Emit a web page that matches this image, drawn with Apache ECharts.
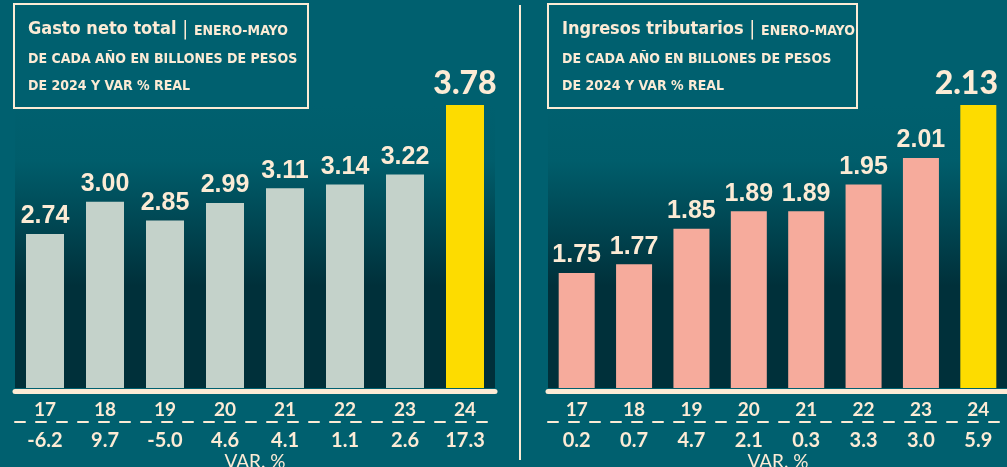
<!DOCTYPE html>
<html>
<head>
<meta charset="utf-8">
<script src="https://cdn.jsdelivr.net/npm/echarts@6/dist/echarts.min.js"></script>
<style>
  html, body { margin: 0; padding: 0; background: #00606f; }
  #chart { width: 1007px; height: 467px; }
</style>
</head>
<body>
<div id="chart"></div>
<script>
// enero-mayo de cada año, billones de pesos de 2024
const years = ["17", "18", "19", "20", "21", "22", "23", "24"]
const gastoValues = [2.74, 3.00, 2.85, 2.99, 3.11, 3.14, 3.22, 3.78]
const gastoVar = [-6.2, 9.7, -5.0, 4.6, 4.1, 1.1, 2.6, 17.3]
const ingresosValues = [1.75, 1.77, 1.85, 1.89, 1.89, 1.95, 2.01, 2.13]
const ingresosVar = [0.2, 0.7, 4.7, 2.1, 0.3, 3.3, 3.0, 5.9]

const TEAL = "#00606f"
const DARK = "#00303a"
const CREAM = "#fcebd5"
const YELLOW = "#fddc00"
const COND = "'DejaVu Sans Condensed', sans-serif"
const LABEL = "'Liberation Sans', Arial, sans-serif"
const WIDE = "Lato, 'Open Sans', sans-serif"

const chart = echarts.init(document.getElementById("chart"), null, { renderer: "canvas" })

function panel(idx, values, vars, color, box) {
  const last = values.length - 1
  const grid = {
    left: box.left, width: box.width, top: 105, height: 283,
    show: true, borderWidth: 0,
    backgroundColor: new echarts.graphic.LinearGradient(0, 0, 0, 1, [
      { offset: 0, color: TEAL },
      { offset: 0.2, color: "#005d6b" },
      { offset: 0.64, color: DARK },
      { offset: 1, color: DARK }
    ])
  }
  const xAxes = [
    {
      gridIndex: idx, type: "category", data: years, position: "bottom", offset: 3,
      axisLine: { onZero: false, lineStyle: { color: CREAM, width: 5 } },
      axisTick: { show: false },
      axisLabel: { color: CREAM, fontFamily: WIDE, fontWeight: "bold", fontSize: 19, margin: 9 }
    },
    {
      gridIndex: idx, type: "category", data: vars.map((v) => v.toFixed(1)), position: "bottom", offset: 34,
      axisLine: { onZero: false, lineStyle: { color: CREAM, width: 2, type: [10, 11] } },
      axisTick: { show: false },
      axisLabel: { color: CREAM, fontFamily: WIDE, fontWeight: "bold", fontSize: 20, margin: 9 }
    }
  ]
  const yAxis = { gridIndex: idx, type: "value", min: box.min, max: values[last], show: false, splitLine: { show: false } }
  const series = {
    type: "bar", xAxisIndex: idx * 2, yAxisIndex: idx, barWidth: box.barWidth,
    itemStyle: { color },
    label: {
      show: true, position: "top", distance: 5, color: CREAM,
      fontFamily: LABEL, fontWeight: "bold", fontSize: 25,
      formatter: (p) => p.value.toFixed(2)
    },
    data: values.map((v, k) => k !== last ? v : {
      value: v,
      itemStyle: { color: YELLOW },
      label: { fontFamily: WIDE, fontSize: 32, fontWeight: 900, offset: [box.labelShift, 0] }
    })
  }
  return { grid, xAxes, yAxis, series }
}

const left = panel(0, gastoValues, gastoVar, "#c4d2ca", { left: 15, width: 480, min: 1.5, barWidth: 38, labelShift: 0 })
const right = panel(1, ingresosValues, ingresosVar, "#f6ab9c", { left: 548, width: 461, min: 1.49, barWidth: 36, labelShift: -12 })

function titleBox(x, width, head) {
  return [
    {
      type: "rect", shape: { x: x, y: 4, width: width, height: 104 },
      style: { fill: "none", stroke: CREAM, lineWidth: 2 }
    },
    {
      type: "text", x: x + 14, y: 13,
      style: {
        text: "{t|" + head + "}{s| | }{u1|ENERO-MAYO}\n{u|DE CADA AÑO EN BILLONES DE PESOS}\n{u|DE 2024 Y VAR % REAL}",
        rich: {
          t: { fill: CREAM, fontFamily: COND, fontWeight: "bold", fontSize: 18, lineHeight: 33 },
          s: { fill: CREAM, fontFamily: COND, fontSize: 20, lineHeight: 33 },
          u1: { fill: CREAM, fontFamily: COND, fontWeight: "bold", fontSize: 14, lineHeight: 33, padding: [3, 0, 0, 0] },
          u: { fill: CREAM, fontFamily: COND, fontWeight: "bold", fontSize: 14, lineHeight: 27 }
        }
      }
    }
  ]
}

chart.setOption({
  backgroundColor: TEAL,
  animation: false,
  grid: [left.grid, right.grid],
  xAxis: [...left.xAxes, ...right.xAxes],
  yAxis: [left.yAxis, right.yAxis],
  series: [left.series, right.series],
  graphic: [
    ...titleBox(14, 294, "Gasto neto total"),
    ...titleBox(548, 309, "Ingresos tributarios"),
    { type: "line", shape: { x1: 520, y1: 5, x2: 520, y2: 460 }, style: { stroke: CREAM, lineWidth: 2 } },
    { type: "text", x: 255, y: 452, style: { text: "VAR. %", fill: CREAM, fontFamily: WIDE, fontSize: 19, align: "center" } },
    { type: "text", x: 778, y: 452, style: { text: "VAR. %", fill: CREAM, fontFamily: WIDE, fontSize: 19, align: "center" } }
  ]
})
</script>
</body>
</html>
